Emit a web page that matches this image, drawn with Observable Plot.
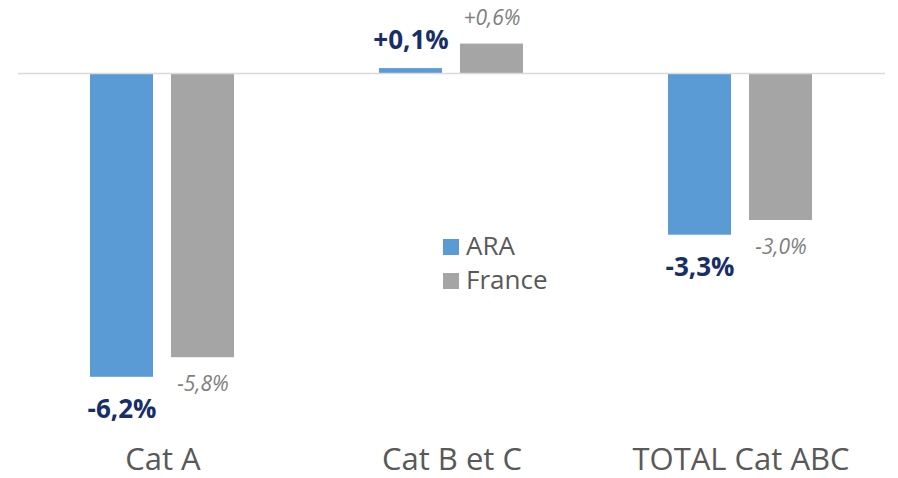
<!DOCTYPE html>
<html>
<head>
<meta charset="utf-8">
<script src="https://cdn.jsdelivr.net/npm/d3@7"></script>
<script src="https://cdn.jsdelivr.net/npm/@observablehq/plot@0.6"></script>
<style>
  html, body { margin: 0; padding: 0; background: #fff; }
  #wrap { position: relative; width: 898px; height: 478px; font-family: "Open Sans", sans-serif; }
  #legend { position: absolute; left: 443px; top: 228px; font-size: 26px; color: #595959; line-height: 34px; }
  #legend .sw { display: inline-block; width: 16px; height: 16px; margin-right: 7px; vertical-align: 0px; }
</style>
</head>
<body>
<div id="wrap"></div>
<script>
const categories = ["Cat A", "Cat B et C", "TOTAL Cat ABC"];
const series = ["ARA", "France"];
const araValues = [-6.2, 0.1, -3.3];
const franceValues = [-5.8, 0.6, -3.0];
const colors = ["#5b9bd5", "#a5a5a5"];

const data = categories.flatMap((c, i) => [
  {cat: c, s: "ARA", v: araValues[i]},
  {cat: c, s: "France", v: franceValues[i]}
]);
const fmt = v => (v > 0 ? "+" : "") + v.toFixed(1).replace(".", ",") + "%";

const ara = data.filter(d => d.s === "ARA");
const fr = data.filter(d => d.s === "France");

const chart = Plot.plot({
  width: 898,
  height: 478,
  marginLeft: 18,
  marginRight: 13,
  marginTop: 4.4,
  marginBottom: 37.5,
  style: {fontFamily: "'Open Sans', sans-serif", background: "#fff"},
  fx: {domain: categories, padding: 0, label: null},
  x: {domain: series, paddingInner: 0.2195, paddingOuter: 0.872, axis: null},
  y: {domain: [-7.5, 1.4], axis: null},
  color: {domain: series, range: colors},
  marks: [
    Plot.barY(data, {fx: "cat", x: "s", y: "v", fill: "s"}),
    Plot.ruleY([0], {stroke: "#d9d9d9", strokeWidth: 1.5}),
    Plot.text(ara.filter(d => d.v < 0), {fx: "cat", x: "s", y: "v", text: d => fmt(d.v), dy: 32, fontSize: 26, fontWeight: "bold", fill: "#172f66"}),
    Plot.text(ara.filter(d => d.v >= 0), {fx: "cat", x: "s", y: "v", text: d => fmt(d.v), dy: -28, fontSize: 26, fontWeight: "bold", fill: "#172f66"}),
    Plot.text(fr.filter(d => d.v < 0), {fx: "cat", x: "s", y: "v", text: d => fmt(d.v), dy: 27, fontSize: 21, fontStyle: "italic", fill: "#7f7f7f"}),
    Plot.text(fr.filter(d => d.v >= 0), {fx: "cat", x: "s", y: "v", text: d => fmt(d.v), dy: -26, fontSize: 21, fontStyle: "italic", fill: "#7f7f7f"}),
    Plot.axisFx({anchor: "bottom", tickSize: 0, tickPadding: 7, fontSize: 31, fill: "#595959", label: null})
  ]
});

const wrap = document.getElementById("wrap");
wrap.appendChild(chart);
const legend = document.createElement("div");
legend.id = "legend";
legend.innerHTML = series.map((s, i) =>
  `<div><span class="sw" style="background:${colors[i]}"></span>${s}</div>`).join("");
wrap.appendChild(legend);
</script>
</body>
</html>
